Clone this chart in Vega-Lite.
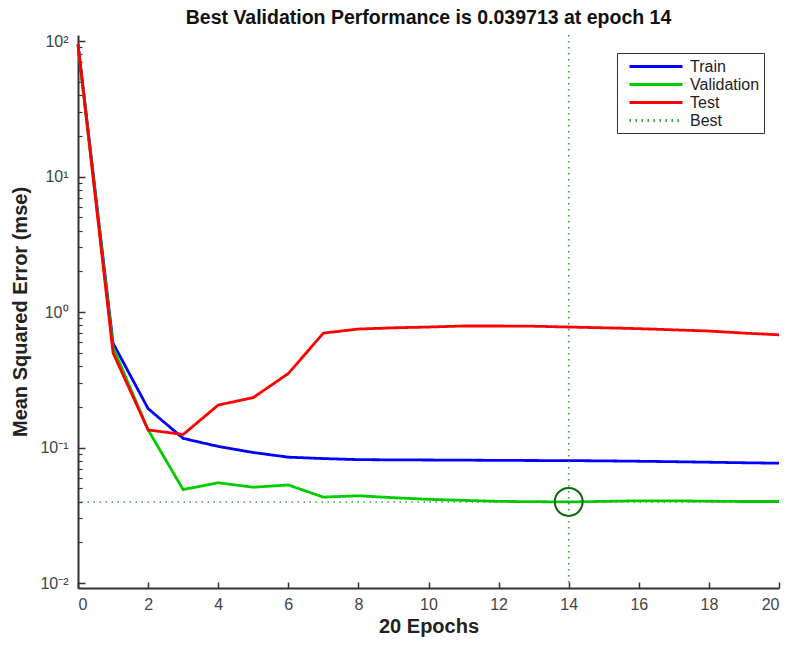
{
  "$schema": "https://vega.github.io/schema/vega-lite/v6.json",
  "width": 701,
  "height": 553,
  "autosize": {"type": "none"},
  "padding": {"left": 78, "top": 35, "right": 21, "bottom": 62},
  "background": "white",
  "title": {"text": "Best Validation Performance is 0.039713 at epoch 14", "font": "Liberation Sans", "fontSize": 19.5, "fontWeight": "bold", "color": "#111", "anchor": "middle", "frame": "group", "offset": 4.5},
  "config": {
    "view": {"stroke": null},
    "axis": {"labelFont": "Liberation Sans", "labelFontSize": 16, "labelColor": "#444", "domainColor": "#333", "domainWidth": 2, "tickColor": "#333", "tickWidth": 1.5, "grid": false, "titleFont": "Liberation Sans", "titleFontSize": 20, "titleFontWeight": "bold", "titleColor": "#222"},
    "legend": {"labelFont": "Liberation Sans", "labelFontSize": 16, "labelColor": "#222", "strokeColor": "#333", "fillColor": "white", "padding": 4, "rowPadding": 0}
  },
  "datasets": {
    "perf": [
      {"epoch": 0, "series": "Train", "mse": 95}, {"epoch": 1, "series": "Train", "mse": 0.59}, {"epoch": 2, "series": "Train", "mse": 0.194}, {"epoch": 3, "series": "Train", "mse": 0.117}, {"epoch": 4, "series": "Train", "mse": 0.102}, {"epoch": 5, "series": "Train", "mse": 0.092}, {"epoch": 6, "series": "Train", "mse": 0.085}, {"epoch": 7, "series": "Train", "mse": 0.083}, {"epoch": 8, "series": "Train", "mse": 0.0815}, {"epoch": 9, "series": "Train", "mse": 0.0812}, {"epoch": 10, "series": "Train", "mse": 0.081}, {"epoch": 11, "series": "Train", "mse": 0.0808}, {"epoch": 12, "series": "Train", "mse": 0.0805}, {"epoch": 13, "series": "Train", "mse": 0.0803}, {"epoch": 14, "series": "Train", "mse": 0.0802}, {"epoch": 15, "series": "Train", "mse": 0.0798}, {"epoch": 16, "series": "Train", "mse": 0.0793}, {"epoch": 17, "series": "Train", "mse": 0.0787}, {"epoch": 18, "series": "Train", "mse": 0.078}, {"epoch": 19, "series": "Train", "mse": 0.0773}, {"epoch": 20, "series": "Train", "mse": 0.0767},
      {"epoch": 0, "series": "Validation", "mse": 92}, {"epoch": 1, "series": "Validation", "mse": 0.55}, {"epoch": 2, "series": "Validation", "mse": 0.135}, {"epoch": 3, "series": "Validation", "mse": 0.049}, {"epoch": 4, "series": "Validation", "mse": 0.055}, {"epoch": 5, "series": "Validation", "mse": 0.051}, {"epoch": 6, "series": "Validation", "mse": 0.053}, {"epoch": 7, "series": "Validation", "mse": 0.0431}, {"epoch": 8, "series": "Validation", "mse": 0.0441}, {"epoch": 9, "series": "Validation", "mse": 0.0427}, {"epoch": 10, "series": "Validation", "mse": 0.0415}, {"epoch": 11, "series": "Validation", "mse": 0.0408}, {"epoch": 12, "series": "Validation", "mse": 0.0401}, {"epoch": 13, "series": "Validation", "mse": 0.0399}, {"epoch": 14, "series": "Validation", "mse": 0.039713}, {"epoch": 15, "series": "Validation", "mse": 0.0401}, {"epoch": 16, "series": "Validation", "mse": 0.0405}, {"epoch": 17, "series": "Validation", "mse": 0.0405}, {"epoch": 18, "series": "Validation", "mse": 0.0402}, {"epoch": 19, "series": "Validation", "mse": 0.04}, {"epoch": 20, "series": "Validation", "mse": 0.04},
      {"epoch": 0, "series": "Test", "mse": 95}, {"epoch": 1, "series": "Test", "mse": 0.5}, {"epoch": 2, "series": "Test", "mse": 0.135}, {"epoch": 3, "series": "Test", "mse": 0.125}, {"epoch": 4, "series": "Test", "mse": 0.206}, {"epoch": 5, "series": "Test", "mse": 0.234}, {"epoch": 6, "series": "Test", "mse": 0.352}, {"epoch": 7, "series": "Test", "mse": 0.7}, {"epoch": 8, "series": "Test", "mse": 0.75}, {"epoch": 9, "series": "Test", "mse": 0.766}, {"epoch": 10, "series": "Test", "mse": 0.776}, {"epoch": 11, "series": "Test", "mse": 0.79}, {"epoch": 12, "series": "Test", "mse": 0.79}, {"epoch": 13, "series": "Test", "mse": 0.787}, {"epoch": 14, "series": "Test", "mse": 0.776}, {"epoch": 15, "series": "Test", "mse": 0.766}, {"epoch": 16, "series": "Test", "mse": 0.755}, {"epoch": 17, "series": "Test", "mse": 0.74}, {"epoch": 18, "series": "Test", "mse": 0.725}, {"epoch": 19, "series": "Test", "mse": 0.7}, {"epoch": 20, "series": "Test", "mse": 0.68}
    ],
    "best": [{"epoch": 14, "mse": 0.039713, "series": "Best"}]
  },
  "resolve": {"axis": {"y": "independent"}},
  "layer": [
    {
      "data": {"name": "perf"},
      "transform": [{"filter": "datum.series == 'Train'"}],
      "mark": {"type": "line", "strokeWidth": 2.8},
      "encoding": {
        "x": {"field": "epoch", "type": "quantitative", "scale": {"domain": [0, 20], "nice": false, "zero": false}, "axis": {"values": [0, 2, 4, 6, 8, 10, 12, 14, 16, 18, 20], "tickSize": -6, "labelPadding": 14, "title": "20 Epochs", "titlePadding": 4}},
        "y": {"field": "mse", "type": "quantitative", "scale": {"type": "log", "domain": [0.0092, 111], "nice": false}, "axis": {"orient": "left", "values": [0.01, 0.1, 1, 10, 100], "labelExpr": "datum.value >= 50 ? '10²' : datum.value >= 5 ? '10¹' : datum.value >= 0.5 ? '10⁰' : datum.value >= 0.05 ? '10⁻¹' : '10⁻²'", "tickSize": -7, "labelPadding": 17, "title": "Mean Squared Error  (mse)", "titlePadding": 9}},
        "color": {"field": "series", "type": "nominal", "scale": {"domain": ["Train", "Validation", "Test", "Best"], "range": ["#0000ff", "#00cc00", "#ff0000", "#3c9a3c"]}, "legend": {"title": null, "orient": "none", "legendX": 539, "legendY": 18, "symbolType": "M-0.125,0H6.5", "symbolSize": 256, "symbolStrokeWidth": 3, "labelOffset": 50}},
        "strokeDash": {"field": "series", "type": "nominal", "scale": {"domain": ["Train", "Validation", "Test", "Best"], "range": [[1, 0], [1, 0], [1, 0], [1.5, 4.5]]}, "legend": null}
      }
    },
    {
      "data": {"name": "perf"},
      "transform": [{"filter": "datum.series == 'Validation'"}],
      "mark": {"type": "line", "strokeWidth": 2.8},
      "encoding": {
        "x": {"field": "epoch", "type": "quantitative"},
        "y": {"field": "mse", "type": "quantitative", "axis": null},
        "color": {"field": "series", "type": "nominal"},
        "strokeDash": {"field": "series", "type": "nominal"}
      }
    },
    {
      "data": {"name": "perf"},
      "transform": [{"filter": "datum.series == 'Test'"}],
      "mark": {"type": "line", "strokeWidth": 2.8},
      "encoding": {
        "x": {"field": "epoch", "type": "quantitative"},
        "y": {"field": "mse", "type": "quantitative", "axis": null},
        "color": {"field": "series", "type": "nominal"},
        "strokeDash": {"field": "series", "type": "nominal"}
      }
    },
    {
      "data": {"name": "best"},
      "mark": {"type": "rule", "strokeWidth": 1.6},
      "encoding": {
        "y": {"field": "mse", "type": "quantitative", "axis": null},
        "color": {"field": "series", "type": "nominal"},
        "strokeDash": {"field": "series", "type": "nominal"}
      }
    },
    {
      "data": {"name": "best"},
      "mark": {"type": "rule", "strokeWidth": 1.6},
      "encoding": {
        "x": {"field": "epoch", "type": "quantitative"},
        "color": {"field": "series", "type": "nominal"},
        "strokeDash": {"field": "series", "type": "nominal"}
      }
    },
    {
      "data": {"name": "best"},
      "mark": {"type": "point", "shape": "circle", "filled": false, "size": 780, "strokeWidth": 2, "color": "#0b6b0b", "opacity": 1},
      "encoding": {
        "x": {"field": "epoch", "type": "quantitative"},
        "y": {"field": "mse", "type": "quantitative", "axis": {"orient": "left", "values": [0.02, 0.03, 0.04, 0.05, 0.06, 0.07, 0.08, 0.09, 0.2, 0.3, 0.4, 0.5, 0.6, 0.7, 0.8, 0.9, 2, 3, 4, 5, 6, 7, 8, 9, 20, 30, 40, 50, 60, 70, 80, 90], "labels": false, "domain": false, "tickSize": -4, "tickWidth": 1.2, "title": null}}
      }
    }
  ]
}
